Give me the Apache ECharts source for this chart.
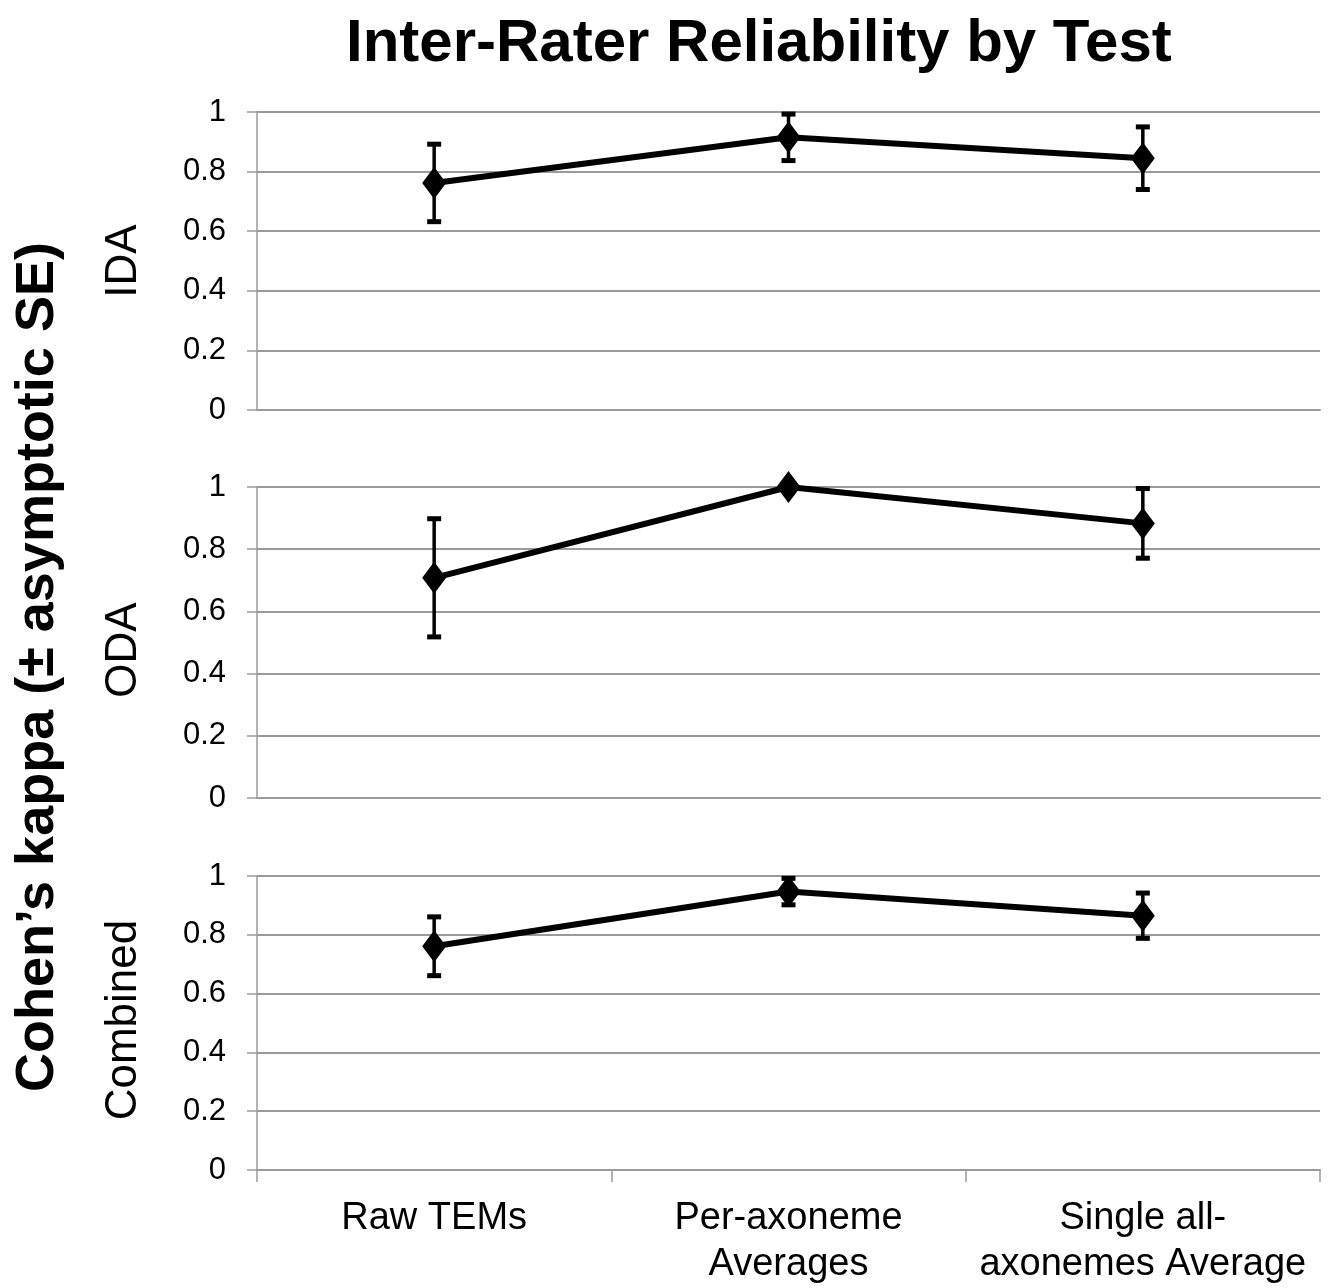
<!DOCTYPE html>
<html>
<head>
<meta charset="utf-8">
<script src="https://cdn.jsdelivr.net/npm/echarts@6/dist/echarts.min.js"></script>
<style>
  html, body { margin: 0; padding: 0; background: #fff; }
  #chart { width: 1334px; height: 1288px; }
</style>
</head>
<body>
<div id="chart"></div>
<script>
// categories on the shared x axis
const categories = ['Raw TEMs', 'Per-axoneme\nAverages', 'Single all-\naxonemes Average']
const panelNames = ['IDA', 'ODA', 'Combined']

// kappa values and asymptotic SE per panel
const idaKappa = [0.762, 0.915, 0.845]
const idaSE = [0.13, 0.078, 0.105]
const odaKappa = [0.708, 1.0, 0.883]
const odaSE = [0.19, 0, 0.112]
const combKappa = [0.761, 0.947, 0.865]
const combSE = [0.10, 0.045, 0.077]

const FONT = "'Liberation Sans', Arial, sans-serif"
const GRAY = '#9a9a9a'

const kappas = [idaKappa, odaKappa, combKappa]
const ses = [idaSE, odaSE, combSE]

// grid boxes for the three stacked panels
const grids = [
  { left: 257, right: 14, top: 112, height: 298 },
  { left: 257, right: 14, top: 487, height: 311 },
  { left: 257, right: 14, top: 876, height: 297 }
]

// error bar: vertical line with caps
function renderErr (params, api) {
  const x = api.value(0)
  const lo = api.coord([x, api.value(1)])
  const hi = api.coord([x, api.value(2)])
  if (Math.abs(hi[1] - lo[1]) < 1) return { type: 'group', children: [] }
  const cap = 7
  return {
    type: 'group',
    children: [
      { type: 'line', shape: { x1: lo[0], y1: lo[1], x2: hi[0], y2: hi[1] }, style: { stroke: '#000', lineWidth: 3.5 } },
      { type: 'line', shape: { x1: lo[0] - cap, y1: lo[1], x2: lo[0] + cap, y2: lo[1] }, style: { stroke: '#000', lineWidth: 5 } },
      { type: 'line', shape: { x1: hi[0] - cap, y1: hi[1], x2: hi[0] + cap, y2: hi[1] }, style: { stroke: '#000', lineWidth: 5 } }
    ]
  }
}

const xAxes = grids.map((g, i) => ({
  type: 'category',
  gridIndex: i,
  data: categories,
  boundaryGap: true,
  axisLine: { show: true, lineStyle: { color: GRAY, width: 2 } },
  axisTick: { show: i === 2, length: 12, inside: false, lineStyle: { color: GRAY, width: 1.5 } },
  axisLabel: {
    show: i === 2,
    fontFamily: FONT,
    fontSize: 38,
    lineHeight: 46,
    color: '#000',
    margin: 26,
    interval: 0
  },
  splitLine: { show: false }
}))

const yAxes = grids.map((g, i) => ({
  type: 'value',
  gridIndex: i,
  min: 0,
  max: 1,
  interval: 0.2,
  axisLine: { show: true, lineStyle: { color: GRAY, width: 1.5 } },
  axisTick: { show: true, length: 10, inside: false, lineStyle: { color: GRAY, width: 1.5 } },
  axisLabel: {
    fontFamily: FONT,
    fontSize: 31,
    color: '#000',
    margin: 31,
    formatter: v => String(+v.toFixed(1))
  },
  splitLine: { show: true, lineStyle: { color: GRAY, width: 2 } }
}))

const series = []
kappas.forEach((k, i) => {
  series.push({
    type: 'custom',
    xAxisIndex: i,
    yAxisIndex: i,
    renderItem: renderErr,
    encode: { x: 0, y: [1, 2] },
    data: k.map((v, j) => [j, v - ses[i][j], v + ses[i][j]]),
    z: 3
  })
  series.push({
    type: 'line',
    xAxisIndex: i,
    yAxisIndex: i,
    data: k,
    symbol: 'diamond',
    symbolSize: [24, 32],
    itemStyle: { color: '#000' },
    lineStyle: { color: '#000', width: 6 },
    z: 4
  })
})

// rotated labels at the left
const panelCenters = [261, 650, 1020]
const graphics = panelNames.map((name, i) => ({
  type: 'text',
  x: 124,
  y: panelCenters[i],
  rotation: Math.PI / 2,
  style: {
    text: name,
    font: '44px ' + FONT,
    fill: '#000',
    align: 'center',
    verticalAlign: 'middle'
  }
}))
graphics.push({
  type: 'text',
  x: 38,
  y: 667,
  rotation: Math.PI / 2,
  style: {
    text: 'Cohen\u2019s kappa (\u00b1 asymptotic SE)',
    font: 'bold 54px ' + FONT,
    fill: '#000',
    align: 'center',
    verticalAlign: 'middle'
  }
})

const chart = echarts.init(document.getElementById('chart'))
chart.setOption({
  animation: false,
  backgroundColor: '#fff',
  title: {
    text: 'Inter-Rater Reliability by Test',
    left: 341,
    top: 9,
    textStyle: { fontFamily: FONT, fontSize: 60, fontWeight: 'bold', color: '#000' }
  },
  grid: grids,
  xAxis: xAxes,
  yAxis: yAxes,
  series: series,
  graphic: graphics
})
</script>
</body>
</html>
